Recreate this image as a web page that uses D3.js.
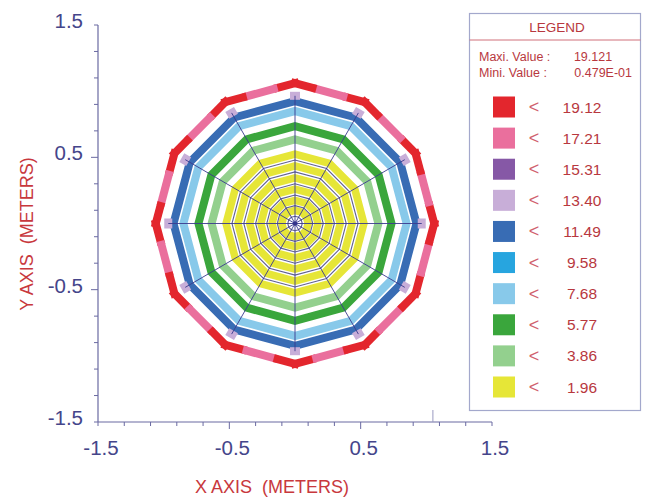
<!DOCTYPE html>
<html><head><meta charset="utf-8">
<script src="https://cdn.jsdelivr.net/npm/d3@7"></script>
<style>body{margin:0;background:#fff}svg{display:block}</style>
</head><body>
<svg id="c" width="647" height="499"></svg>
<script>
// ---- data ----
const legendLevels = [19.12, 17.21, 15.31, 13.40, 11.49, 9.58, 7.68, 5.77, 3.86, 1.96];
const legendColors = ["#e3262d","#ea6f9d","#8658a6","#c8aed8","#386cb4","#27a5df","#88c9ea","#3aa63c","#93d08e","#e6e637"];
const maxValueText = "19.121";
const minValueText = "0.479E-01";
const xTickLabels = ["-1.5","-0.5","0.5","1.5"];
const yTickLabels = ["1.5","0.5","-0.5","-1.5"];
const nSides = 12;
// contour rings (radius in m, value)
const ringRadii  = [0.10, 0.175, 0.26, 0.345, 0.435, 0.525, 0.635, 0.735, 0.85, 0.925];
const ringValues = [1.0,  1.2,   1.4,  1.6,   1.8,   1.9,   3.0,   5.0,   7.0,  11.0];
// vertex patches
const vertexPatchRadius = 0.965, vertexPatchValue = 13.0;
// outer ring: split of each edge
const outerRadius = 1.06;
const outerSegT = [0, 0.25, 0.75, 1];
const outerSegValues = [19.0, 17.0, 19.0];
// mesh
const meshRadii = [0.055, 0.135, 0.215, 0.30, 0.39, 0.48];
const meshOuter = 0.965;
const strayMarkX = 1.05;

// ---- scales ----
const svg = d3.select("#c");
const x = d3.scaleLinear().domain([-1.5,1.5]).range([98,492]);
const y = d3.scaleLinear().domain([-1.5,1.5]).range([422,25]);
const asc = legendLevels.slice().reverse();
const ascCol = legendColors.slice().reverse();
const color = d3.scaleThreshold().domain(asc.slice(0,-1)).range(ascCol);

const vert = (r,k) => { const a = k*2*Math.PI/nSides; return [x(r*Math.cos(a)), y(r*Math.sin(a))]; };
const poly = r => d3.range(nSides).map(k => vert(r,k));
const line = d3.line();

const plot = svg.append("g");
// contour rings
ringRadii.forEach((r,i) => {
  const v = ringValues[i];
  plot.append("path").attr("d", line(poly(r)) + "Z")
    .attr("fill","none").attr("stroke", color(v))
    .attr("stroke-width", v < 1.96 ? 7.5 : 8).attr("stroke-linejoin","miter");
});
// outer ring segments
for (let k=0;k<nSides;k++){
  const p0 = vert(outerRadius,k), p1 = vert(outerRadius,k+1);
  outerSegValues.forEach((v,j)=>{
    const t0 = outerSegT[j], t1 = outerSegT[j+1];
    const a = [p0[0]+(p1[0]-p0[0])*t0, p0[1]+(p1[1]-p0[1])*t0];
    const b = [p0[0]+(p1[0]-p0[0])*t1, p0[1]+(p1[1]-p0[1])*t1];
    plot.append("path").attr("d", line([a,b])).attr("stroke", color(v))
      .attr("stroke-width", 8).attr("stroke-linecap", j===1?"butt":"square").attr("fill","none");
  });
}
// mesh rings
meshRadii.forEach(r => {
  plot.append("path").attr("d", line(poly(r))+"Z").attr("fill","none")
    .attr("stroke","#45457e").attr("stroke-width",1.1).attr("opacity",0.85);
});
// vertex patches
poly(vertexPatchRadius).forEach((p,k) => {
  const ang = -k*360/nSides;
  plot.append("rect").attr("x",-4).attr("y",-5).attr("width",8).attr("height",10)
    .attr("transform",`translate(${p[0]},${p[1]}) rotate(${ang})`)
    .attr("fill", color(vertexPatchValue));
});
// radial lines
d3.range(nSides).forEach(k => {
  plot.append("path").attr("d", line([[x(0),y(0)], vert(meshOuter,k)]))
    .attr("stroke","#3b3b8f").attr("stroke-width",1).attr("opacity",0.9);
});
plot.append("circle").attr("cx",x(0)).attr("cy",y(0)).attr("r",2.2).attr("fill","#33338a");

// ---- axes ----
const axCol = "#6a6aa2";
const ax = svg.append("g");
ax.append("line").attr("x1",x(-1.5)).attr("x2",x(1.5)).attr("y1",y(-1.5)).attr("y2",y(-1.5)).attr("stroke",axCol).attr("stroke-width",1.2);
ax.append("line").attr("x1",x(-1.5)).attr("x2",x(-1.5)).attr("y1",y(-1.5)).attr("y2",y(1.5)).attr("stroke",axCol).attr("stroke-width",1.2);
const ticks = d3.range(16).map(i => +(-1.5 + i*0.2).toFixed(2)).filter(v=>v<=1.5);
const isMajor = v => Math.abs(Math.abs(v)-0.5)<1e-6;
ticks.forEach(v=>{
  const L = isMajor(v)?7:4;
  ax.append("line").attr("x1",x(v)).attr("x2",x(v)).attr("y1",y(-1.5)).attr("y2",y(-1.5)+L).attr("stroke",axCol);
  ax.append("line").attr("y1",y(v)).attr("y2",y(v)).attr("x1",x(-1.5)).attr("x2",x(-1.5)-L).attr("stroke",axCol);
});
ax.append("line").attr("x1",x(strayMarkX)).attr("x2",x(strayMarkX)).attr("y1",y(-1.5)).attr("y2",y(-1.5)-12).attr("stroke","#9a9ac0");
const tf = "'Liberation Sans', Arial, sans-serif";
xTickLabels.forEach(t=>{
  ax.append("text").attr("x",x(+t)+3).attr("y",455).attr("text-anchor","middle")
    .attr("font-family",tf).attr("font-size",20.5).attr("fill","#45458a").text(t);
});
yTickLabels.forEach(t=>{
  ax.append("text").attr("x",83).attr("y",y(+t)+3).attr("text-anchor","end")
    .attr("font-family",tf).attr("font-size",20.5).attr("fill","#45458a").text(t);
});
svg.append("text").attr("x",272).attr("y",493).attr("text-anchor","middle")
  .attr("font-family",tf).attr("font-size",18).attr("fill","#c8383d").text("X AXIS\u00a0 (METERS)");
svg.append("text").attr("transform","translate(33,234) rotate(-90)").attr("text-anchor","middle")
  .attr("font-family",tf).attr("font-size",18).attr("fill","#c8383d").text("Y AXIS\u00a0 (METERS)");

// ---- legend ----
const lg = svg.append("g");
const txtCol = "#b8383e";
lg.append("rect").attr("x",469.5).attr("y",13.5).attr("width",171).attr("height",397)
  .attr("fill","#fff").attr("stroke","#a3a8cc").attr("stroke-width",1.2);
lg.append("text").attr("x",557).attr("y",32).attr("text-anchor","middle")
  .attr("font-family",tf).attr("font-size",13.5).attr("fill",txtCol).text("LEGEND");
lg.append("line").attr("x1",469.5).attr("x2",640.5).attr("y1",40).attr("y2",40).attr("stroke","#d0707a").attr("stroke-width",1);
lg.append("text").attr("x",479).attr("y",61).attr("font-family",tf).attr("font-size",12.5).attr("fill",txtCol).text("Maxi. Value :");
lg.append("text").attr("x",593).attr("y",61).attr("text-anchor","middle").attr("font-family",tf).attr("font-size",12.5).attr("fill",txtCol).text(maxValueText);
lg.append("text").attr("x",479).attr("y",77).attr("font-family",tf).attr("font-size",12.5).attr("fill",txtCol).text("Mini. Value :");
lg.append("text").attr("x",632).attr("y",77).attr("text-anchor","end").attr("font-family",tf).attr("font-size",12.5).attr("fill",txtCol).text(minValueText);
const ly = d3.scalePoint().domain(d3.range(legendLevels.length)).range([107,387]);
legendLevels.forEach((v,i)=>{
  const cy = ly(i);
  lg.append("rect").attr("x",493).attr("y",cy-10.5).attr("width",22).attr("height",21).attr("fill",legendColors[i]);
  lg.append("text").attr("x",534).attr("y",cy+6).attr("text-anchor","middle").attr("font-family",tf)
    .attr("font-size",18).attr("fill","#d0606e").text("<");
  lg.append("text").attr("x",582).attr("y",cy+5.5).attr("text-anchor","middle").attr("font-family",tf)
    .attr("font-size",15.5).attr("fill",txtCol).text(v.toFixed(2));
});
</script>
</body></html>
